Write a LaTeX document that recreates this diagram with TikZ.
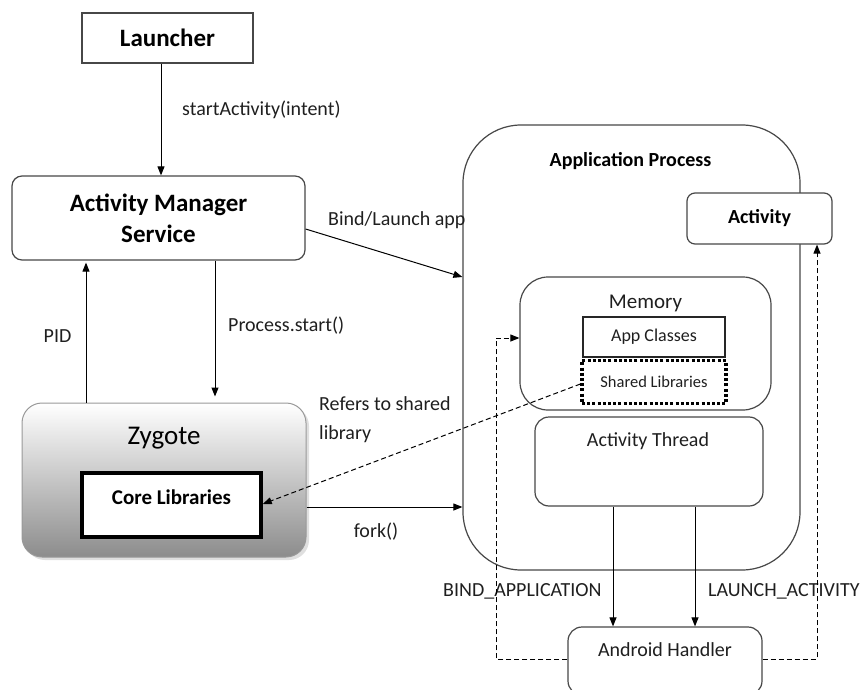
\documentclass[tikz,border=0pt]{standalone}
\usepackage{fontspec}
\setmainfont{Carlito}
\usetikzlibrary{arrows.meta,shadows,calc}
\begin{document}
\begin{tikzpicture}[x=1pt,y=-1pt,
  boxline/.style={draw=black!72, line width=1.2pt},
  plainbox/.style={boxline, rectangle, inner sep=0pt},
  roundbox/.style={boxline, rectangle, rounded corners=#1, inner sep=0pt},
  head/.style={font=\bfseries\fontsize{25}{31}\selectfont},
  subhead/.style={font=\bfseries\fontsize{20}{24}\selectfont},
  lbl/.style={font=\fontsize{20}{29}\selectfont, text=black!88, inner sep=0pt},
  arr/.style={-{Triangle[length=9pt,width=7pt]}, line width=1pt, black},
  dasharr/.style={-{Triangle[length=9pt,width=7pt]}, line width=1pt, black,
                  dash pattern=on 5pt off 3pt},
  dashline/.style={line width=1pt, black, dash pattern=on 5pt off 3pt}
]
\useasboundingbox (0,0) rectangle (865,690);

% --- left column -------------------------------------------------------
\node[plainbox, minimum width=171pt, minimum height=50pt, head] (launcher)
  at (167.5,38) {Launcher};

\node[roundbox=10pt, minimum width=293pt, minimum height=84pt, head, align=center]
  (ams) at (158.5,218) {Activity Manager\\Service};

\node[rectangle, rounded corners=20pt, draw=black!40, line width=1pt,
      top color=white, bottom color=black!45,
      drop shadow={shadow xshift=3pt, shadow yshift=-3pt, opacity=0.25},
      minimum width=284pt, minimum height=154pt, inner sep=0pt]
  (zyg) at (164,480) {};
\node[font=\fontsize{27}{32}\selectfont, text=black] (zygtxt) at (164,438) {Zygote};

\node[rectangle, draw=black, line width=3.5pt, fill=white,
      minimum width=179pt, minimum height=64pt, inner sep=0pt]
  (core) at (171.5,505) {};
\node[font=\bfseries\fontsize{21}{25}\selectfont] (coretxt) at (171.5,497) {Core Libraries};

% --- application process -----------------------------------------------
\node[roundbox=58pt, minimum width=337pt, minimum height=445pt] (app) at (631.5,347.5) {};
\node[subhead] (apptxt) at (630.5,161) {Application Process};

\node[roundbox=8pt, minimum width=145pt, minimum height=51pt, fill=white, subhead]
  (activity) at (759.5,218.5) {Activity};

\node[roundbox=28pt, minimum width=251pt, minimum height=133pt] (memory) at (645.5,343.5) {};
\node[font=\fontsize{21}{25}\selectfont, text=black!88] (memtxt) at (645.5,303) {Memory};

\node[plainbox, draw=black!85, line width=1.1pt, minimum width=142pt, minimum height=40pt,
      font=\fontsize{18}{22}\selectfont, text=black!88]
  (appcls) at (654,337) {App Classes};

\node[rectangle, draw=black, line width=3.2pt, dash pattern=on 3pt off 2.2pt,
      minimum width=144pt, minimum height=43pt, inner sep=0pt,
      font=\fontsize{16.5}{20}\selectfont, text=black!88]
  (shlib) at (654,382) {Shared Libraries};

\node[roundbox=14pt, minimum width=228pt, minimum height=89pt] (athread) at (649,461.5) {};
\node[lbl] (athtxt) at (648,441) {Activity Thread};

\node[roundbox=14pt, minimum width=194pt, minimum height=68pt, fill=white] (handler) at (665,661) {};
\node[lbl] (handtxt) at (665,650) {Android Handler};

% --- connectors --------------------------------------------------------
\draw[arr] (launcher.south -| 161,0) -- (ams.north -| 161,0);
\node[lbl, anchor=west] (l1) at (182,110) {startActivity(intent)};

\draw[arr] (zyg.north -| 86,0) -- ($(ams.south -| 86,0)+(0,2)$);
\node[lbl] (l2) at (57.5,336) {PID};

\draw[arr, shorten >=6pt] (ams.south -| 215,0) -- (zyg.north -| 215,0);
\node[lbl, anchor=west] (l3) at (228,326) {Process.start()};

\draw[arr] (ams.east |- 0,229) -- (app.west |- 0,277);
\node[lbl, anchor=west] (l4) at (328,220) {Bind/Launch app};

\draw[arr] (zyg.east |- 0,507) -- (app.west |- 0,507);
\node[lbl] (l5) at (376,532) {fork()};

\draw[dasharr] (shlib.west |- 0,384) -- (core.east |- 0,504);
\node[lbl, anchor=west, align=left] (l6) at (319,420) {Refers to shared\\library};

\draw[arr] (athread.south -| 613,0) -- (handler.north -| 613,0);
\draw[arr] (athread.south -| 695,0) -- (handler.north -| 695,0);
\node[lbl, anchor=west] (l7) at (443,591) {BIND\_APPLICATION};
\node[lbl, anchor=west] (l8) at (708,591) {LAUNCH\_ACTIVITY};

\coordinate (lb) at (496,659);
\coordinate (lt) at (496,338);
\draw[dasharr] (handler.west |- lb) -- (lb) -- (lt) -- (memory.west |- lt);

\coordinate (rb) at (817,659);
\draw[dasharr] (handler.east |- rb) -- (rb) -- (activity.south -| rb);
\end{tikzpicture}
\end{document}
